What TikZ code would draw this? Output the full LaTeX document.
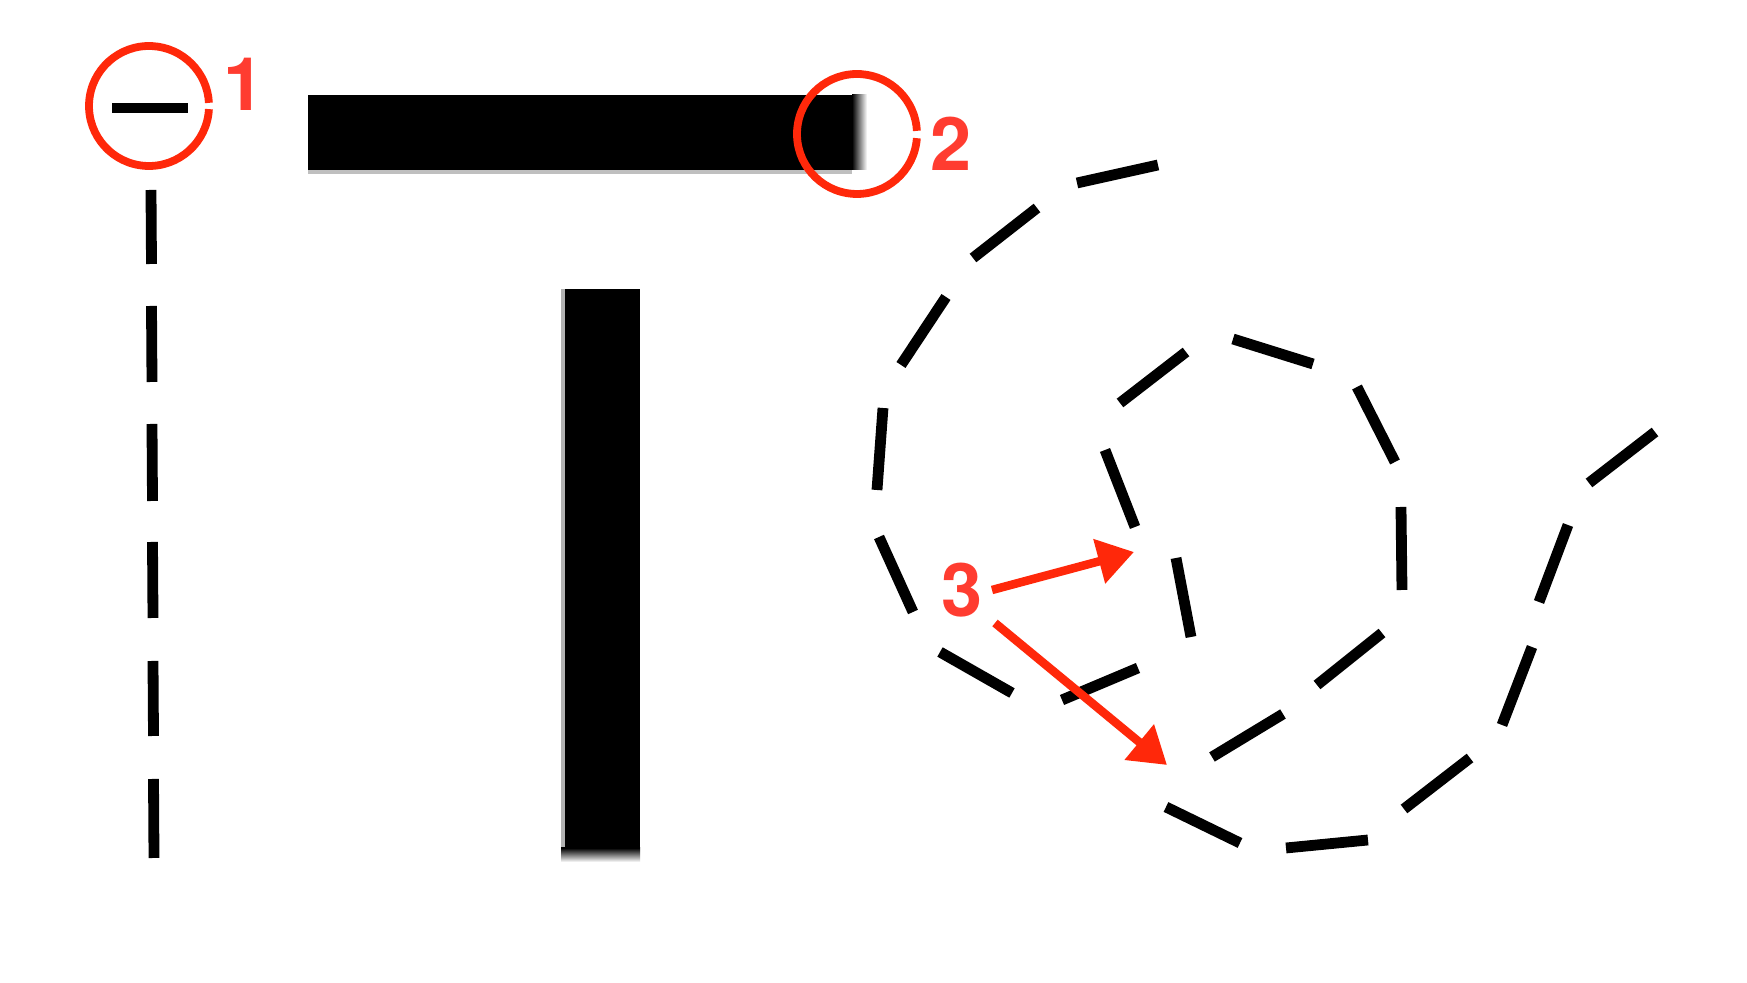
\documentclass[tikz,border=0pt]{standalone}
\usepackage{fontspec}
\newfontfamily\labfont{TeX Gyre Heros}
\usetikzlibrary{arrows.meta}
\definecolor{penred}{RGB}{255,40,10}
\definecolor{labelred}{RGB}{255,60,48}
\tikzset{
  dashseg/.style={line width=0.108cm, line cap=butt, black},
  penring/.style={penred, line width=0.078cm},
  penarrow/.style={penred, line width=0.085cm, -{Triangle[length=0.36cm,width=0.44cm]}},
  numlabel/.style={text=labelred, font=\labfont\bfseries\fontsize{21pt}{21pt}\selectfont, inner sep=0pt, anchor=center}
}
\begin{document}
\begin{tikzpicture}[x=0.01cm,y=-0.01cm]
\useasboundingbox (0,0) rectangle (1747,983);
\fill[white] (0,0) rectangle (1747,983);

% --- vertical dashed line ---
\draw[dashseg] (151,190) -- (151.5,264)
  (151.5,306) -- (152,382)
  (152,424) -- (152.5,501)
  (152.5,542) -- (153,618)
  (153,661) -- (153.5,736)
  (153.5,779) -- (154,858);

% --- minus sign with ring 1 ---
\fill[black] (112,103) rectangle (188,113);
\coordinate (c1) at (149,106);
\draw[penring] (c1) ++(3:60) arc[start angle=3, end angle=357, radius=60];
\node[numlabel] (l1) at (244,84) {1};

% --- thick horizontal bar with blurry end ---
\fill[black] (308,95) rectangle (852,170);
\fill[black!25] (308,170) rectangle (852,174);
\shade[left color=black, right color=white] (852,95) rectangle (867,170);
\coordinate (c2) at (857,134);
\draw[penring] (c2) ++(4:60) arc[start angle=4, end angle=357, radius=60];
\node[numlabel] (l2) at (951,144) {2};

% --- thick vertical bar with blurry end ---
\fill[black!30] (561,289) rectangle (565,848);
\fill[black] (565,289) rectangle (640,848);
\shade[top color=black, bottom color=white] (561,848) rectangle (640,862);

% --- dashed spiral ---
\draw[dashseg]
  (1077,183) -- (1158,165)
  (973,258) -- (1037,208)
  (901,365) -- (946,297)
  (883,408) -- (877,490)
  (879,537) -- (913,612)
  (940,652) -- (1012,693)
  (1062,700) -- (1138,668)
  (1191,637) -- (1176,558)
  (1135,527) -- (1105,450)
  (1120,403) -- (1186,352)
  (1233,339) -- (1313,364)
  (1357,387) -- (1395,462)
  (1401,507) -- (1402,590)
  (1382,633) -- (1317,685)
  (1283,714) -- (1212,757)
  (1166,807) -- (1240,843)
  (1286,848) -- (1368,840)
  (1404,809) -- (1470,758)
  (1502,725) -- (1532,647)
  (1539,602) -- (1568,525)
  (1589,483) -- (1655,432);

% --- label 3 and arrows ---
\node[numlabel] (l3) at (962,590) {3};
\coordinate (a1s) at (992,590);
\coordinate (a1e) at (1134,552);
\coordinate (a2s) at (995,623);
\coordinate (a2e) at (1167,765);
\draw[penarrow] (a1s) -- (a1e);
\draw[penarrow] (a2s) -- (a2e);
\end{tikzpicture}
\end{document}
